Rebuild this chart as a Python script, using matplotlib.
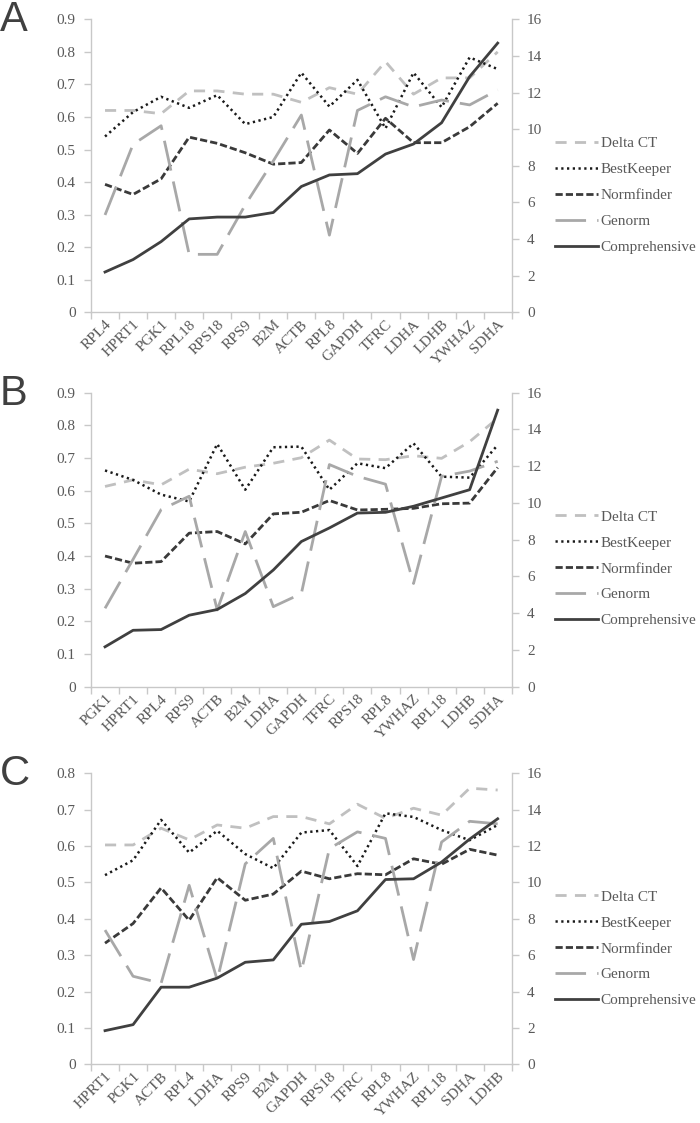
import matplotlib
matplotlib.use("Agg")
import matplotlib.pyplot as plt
from matplotlib.lines import Line2D

# ---------------- data ----------------
genes_a = ["RPL4", "HPRT1", "PGK1", "RPL18", "RPS18", "RPS9", "B2M", "ACTB",
           "RPL8", "GAPDH", "TFRC", "LDHA", "LDHB", "YWHAZ", "SDHA"]
deltact_a = [0.62, 0.62, 0.61, 0.68, 0.68, 0.67, 0.67, 0.645, 0.69, 0.67, 0.77, 0.67, 0.72, 0.72, 0.80]
bestkeeper_a = [0.54, 0.615, 0.662, 0.628, 0.667, 0.578, 0.60, 0.736, 0.632, 0.714, 0.565, 0.736, 0.63, 0.783, 0.747]
normfinder_a = [0.393, 0.362, 0.41, 0.538, 0.519, 0.49, 0.455, 0.46, 0.56, 0.488, 0.596, 0.521, 0.521, 0.57, 0.642]
genorm_a = [0.299, 0.516, 0.573, 0.178, 0.178, 0.33, 0.465, 0.606, 0.237, 0.62, 0.662, 0.631, 0.652, 0.637, 0.683]
comprehensive_a = [2.2, 2.88, 3.86, 5.1, 5.2, 5.2, 5.45, 6.87, 7.5, 7.57, 8.64, 9.19, 10.35, 12.87, 14.7]

genes_b = ["PGK1", "HPRT1", "RPL4", "RPS9", "ACTB", "B2M", "LDHA", "GAPDH",
           "TFRC", "RPS18", "RPL8", "YWHAZ", "RPL18", "LDHB", "SDHA"]
deltact_b = [0.613, 0.633, 0.618, 0.666, 0.652, 0.672, 0.684, 0.701, 0.755, 0.697, 0.695, 0.707, 0.699, 0.75, 0.822]
bestkeeper_b = [0.662, 0.633, 0.588, 0.567, 0.743, 0.603, 0.733, 0.735, 0.603, 0.684, 0.669, 0.745, 0.643, 0.64, 0.74]
normfinder_b = [0.40, 0.378, 0.383, 0.47, 0.475, 0.437, 0.529, 0.534, 0.57, 0.541, 0.543, 0.546, 0.56, 0.562, 0.671]
genorm_b = [0.24, 0.39, 0.542, 0.583, 0.235, 0.475, 0.245, 0.285, 0.68, 0.644, 0.62, 0.316, 0.644, 0.66, 0.69]
comprehensive_b = [2.17, 3.07, 3.11, 3.89, 4.2, 5.07, 6.35, 7.9, 8.64, 9.45, 9.49, 9.82, 10.27, 10.72, 15.05]

genes_c = ["HPRT1", "PGK1", "ACTB", "RPL4", "LDHA", "RPS9", "B2M", "GAPDH",
           "RPS18", "TFRC", "RPL8", "YWHAZ", "RPL18", "SDHA", "LDHB"]
deltact_c = [0.603, 0.603, 0.649, 0.617, 0.658, 0.649, 0.681, 0.681, 0.661, 0.715, 0.676, 0.704, 0.685, 0.759, 0.754]
bestkeeper_c = [0.52, 0.561, 0.672, 0.582, 0.642, 0.578, 0.539, 0.637, 0.644, 0.545, 0.69, 0.68, 0.644, 0.616, 0.658]
normfinder_c = [0.333, 0.387, 0.485, 0.396, 0.513, 0.451, 0.468, 0.531, 0.51, 0.524, 0.521, 0.565, 0.55, 0.591, 0.575]
genorm_c = [0.369, 0.242, 0.223, 0.492, 0.232, 0.551, 0.621, 0.256, 0.593, 0.639, 0.621, 0.288, 0.611, 0.668, 0.661]
comprehensive_c = [1.85, 2.18, 4.24, 4.24, 4.74, 5.61, 5.74, 7.7, 7.85, 8.44, 10.16, 10.2, 11.12, 12.38, 13.5]

series_names = ["Delta CT", "BestKeeper", "Normfinder", "Genorm", "Comprehensive"]
left_max = [0.9, 0.9, 0.8]
panel_letters = ["A", "B", "C"]

# ---------------- style ----------------
plt.rcParams["font.serif"] = ["Liberation Serif", "DejaVu Serif"]
plt.rcParams["font.family"] = ["serif"]
TXT = "#595959"
SPINE = "#C8C8C8"
styles = [
    dict(color="#C0C0C0", lw=2.0, dashes=(4, 3)),
    dict(color="#1a1a1a", lw=1.8, dashes=(0.9, 1.4)),
    dict(color="#3a3a3a", lw=2.0, dashes=(2.6, 1.1)),
    dict(color="#A8A8A8", lw=2.0, dashes=(11, 4)),
    dict(color="#404040", lw=2.0, dashes=None),
]

W, H = 700, 1123
fig = plt.figure(figsize=(W / 100, H / 100), dpi=100)

panels = [
    (genes_a, [deltact_a, bestkeeper_a, normfinder_a, genorm_a], comprehensive_a, 19.3, 312.3, 141.7),
    (genes_b, [deltact_b, bestkeeper_b, normfinder_b, genorm_b], comprehensive_b, 392.7, 686.7, 515.0),
    (genes_c, [deltact_c, bestkeeper_c, normfinder_c, genorm_c], comprehensive_c, 773.3, 1064.3, 895.0),
]

x_left, x_right = 91.0, 511.7

for i, (genes, left_series, comp, top, bot, leg_y) in enumerate(panels):
    ax = fig.add_axes([x_left / W, 1 - bot / H, (x_right - x_left) / W, (bot - top) / H])
    ax2 = ax.twinx()
    n = len(genes)
    xs = list(range(n))
    for s, vals in enumerate(left_series):
        st = styles[s]
        ln, = ax.plot(xs, vals, color=st["color"], lw=st["lw"], solid_capstyle="butt",
                      dash_capstyle="butt")
        ln.set_dashes(st["dashes"])
    st = styles[4]
    ax2.plot(xs, comp, color=st["color"], lw=st["lw"])

    ax.set_xlim(-0.5, n - 0.5)
    ax.set_ylim(0, left_max[i])
    ax2.set_ylim(0, 16)
    nt = int(round(left_max[i] * 10)) + 1
    yt = [k / 10 for k in range(nt)]
    ax.set_yticks(yt)
    ax.set_yticklabels(["0"] + [f"{v:.1f}" for v in yt[1:]])
    ax2.set_yticks(list(range(0, 17, 2)))

    ax.set_xticks([k - 0.5 for k in range(n + 1)])
    ax.set_xticklabels([])
    ax.set_xticks(xs, minor=True)
    ax.set_xticklabels(genes, minor=True, rotation=45, ha="right", va="top",
                       rotation_mode="anchor", fontsize=11, color=TXT)
    ax.tick_params(axis="x", which="minor", length=0, pad=4)
    ax.tick_params(axis="x", which="major", length=5, color=SPINE, width=1)
    ax.tick_params(axis="y", length=5, color=SPINE, width=1, labelsize=11,
                   labelcolor=TXT, pad=6)
    ax2.tick_params(axis="y", length=5, color=SPINE, width=1, labelsize=11,
                    labelcolor=TXT, pad=6)

    for a in (ax, ax2):
        a.spines["top"].set_visible(False)
        for sp in ("left", "right", "bottom"):
            a.spines[sp].set_color(SPINE)
            a.spines[sp].set_linewidth(1)
    ax.spines["right"].set_visible(False)
    ax2.spines["left"].set_visible(False)
    ax2.spines["bottom"].set_visible(False)

    leg_handles = []
    for s in range(5):
        st = styles[s]
        h = Line2D([], [], color=st["color"], lw=st["lw"])
        if st["dashes"] is not None:
            h.set_dashes(st["dashes"])
        leg_handles.append(h)
    fig.legend(leg_handles, series_names, loc="upper left",
               bbox_to_anchor=(555 / W, 1 - (leg_y - 5) / H),
               bbox_transform=fig.transFigure, frameon=False,
               fontsize=11, labelcolor=TXT, handlelength=2.8,
               handletextpad=0.2, labelspacing=0.8, borderpad=0, borderaxespad=0)

    fig.text(0 / W, 1 - (top + 1) / H, panel_letters[i], fontsize=30,
             family="Liberation Sans", color="#404040", ha="left", va="center")

fig.savefig("out.png", dpi=100)
